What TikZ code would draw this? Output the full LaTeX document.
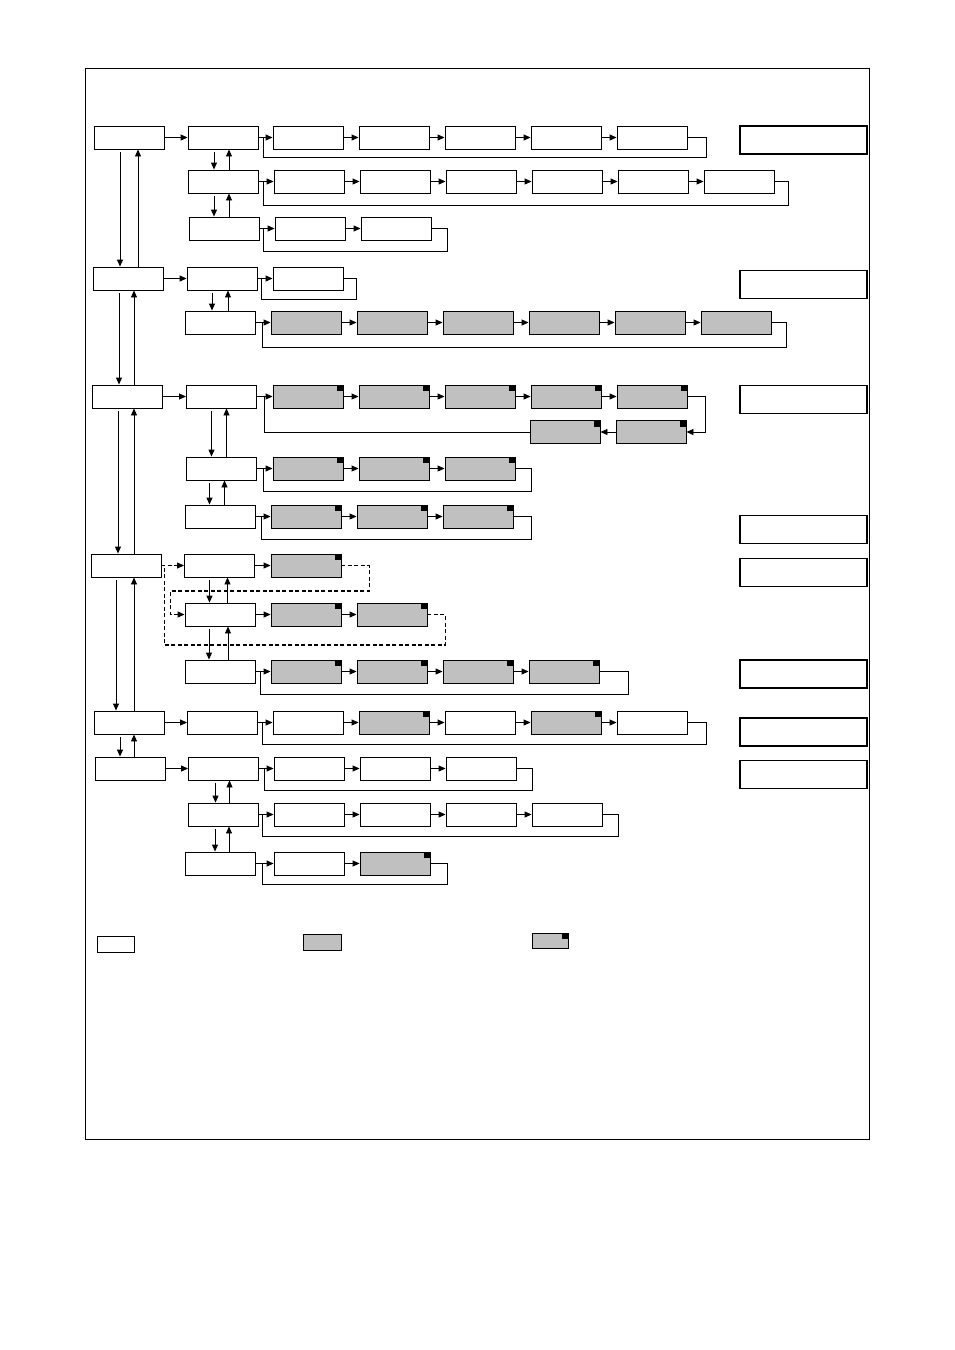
\documentclass[tikz,border=0pt]{standalone}
\usetikzlibrary{arrows.meta,calc}
\definecolor{boxgray}{HTML}{C0C0C0}

\begin{document}
\begin{tikzpicture}[x=1pt,y=-1pt,line width=0.9pt,
  wbox/.style={draw, fill=white, inner sep=0pt, minimum width=70pt, minimum height=23pt},
  gbox/.style={wbox, fill=boxgray},
  mbox/.style={gbox, path picture={\fill[black] ([xshift=-6pt,yshift=-6pt]path picture bounding box.north east) rectangle (path picture bounding box.north east);}},
  sidebox/.style={draw, line width=1.2pt, inner sep=0pt, minimum width=127pt, minimum height=28pt},
  arr/.style={-{Triangle[length=7pt,width=6pt]}},
  dashline/.style={line width=1.1pt, dash pattern=on 4pt off 2.5pt}]
\useasboundingbox (0,0) rectangle (954,1350);
\draw (85,68) rectangle (869,1139);

% main column and second column
\foreach \x/\y [count=\i] in {129/137.5, 128/278.5, 127.5/396.5, 126/565.5, 129/722.5, 130/768.5}
  \node[wbox] (m\i) at (\x,\y) {};
\foreach \x/\y [count=\i] in {223/137.5, 223/181.5, 224/228.5, 222/278.5, 220/322.5, 221.5/396.5, 221.5/468.5, 220/516.5,
    219.5/565.5, 220/614.5, 220/671.5, 222.5/722.5, 223.5/768.5, 223/814.5, 220.5/863.5}
  \node[wbox] (s\i) at (\x,\y) {};

% chains of boxes, one row each
\foreach \r/\x/\y/\types in {
    1/222/137.5/{wbox,wbox,wbox,wbox,wbox},
    2/223/181.5/{wbox,wbox,wbox,wbox,wbox,wbox},
    3/224/228.5/{wbox,wbox},
    4/222/278.5/{wbox},
    5/220/322.5/{gbox,gbox,gbox,gbox,gbox,gbox},
    6/222/396.5/{mbox,mbox,mbox,mbox,mbox},
    7/222/468.5/{mbox,mbox,mbox},
    8/220/516.5/{mbox,mbox,mbox},
    9/220/565.5/{mbox},
    10/220/614.5/{mbox,mbox},
    11/220/671.5/{mbox,mbox,mbox,mbox},
    12/222/722.5/{wbox,mbox,wbox,mbox,wbox},
    13/223/768.5/{wbox,wbox,wbox},
    14/223/814.5/{wbox,wbox,wbox,wbox},
    15/223/863.5/{wbox,mbox}}{
  \foreach \t [count=\c, remember=\c as \p (initially 0)] in \types {
    \node[\t] (r\r-\c) at ({\x+86*\c},\y) {};
    \ifnum\p=0
      \draw[arr] (s\r.east) -- (r\r-\c.west);
    \else
      \draw[arr] (r\r-\p.east) -- (r\r-\c.west);
    \fi
  }
}

% loops back to the start of a row
\foreach \r/\c/\dx/\dy/\dl in {1/5/19/20/5, 2/6/14/24/5, 3/2/16/23/4, 4/1/13/21/4, 5/6/15/25/7, 7/3/16/23/6,
    8/3/18/23/6, 11/4/29/23/5, 12/5/19/22/4, 13/3/16/22/5, 14/4/16/22/4, 15/2/17/21/6}
  \draw (r\r-\c.east) -| ++(\dx,\dy) -| ([xshift=\dl pt]s\r.east);

\node[mbox] (r6b1) at (651,432) {};
\node[mbox] (r6b2) at (565,432) {};
\draw[arr] (r6-5.east) -| ++(18,35.5) -- (r6b1.east);
\draw[arr] (r6b1.west) -- (r6b2.east);
\draw (r6b2.west) -| ([xshift=7pt]s6.east);

\draw[dashline,arr] (m4.east) -- (s9.west);
\draw[dashline,arr] (r9-1.east) -| ++(28,25.5) -| ([xshift=-14pt]s10.west) -- (s10.west);
\draw[dashline] (r10-2.east) -| ++(18,30.5) -| ([xshift=3pt]m4.east);

% from the main column
\foreach \a/\b in {m1/s1, m2/s4, m3/s6, m5/s12, m6/s13}
  \draw[arr] (\a.east) -- (\b.west);

% up and down
\foreach \a/\b/\l/\u in {m1/m2/-9/9, m2/m3/-9/6, m3/m4/-9.5/6.5, m4/m5/-10/8, m5/m6/-9/5,
    s1/s2/-9/6, s2/s3/-9/6, s4/s5/-10/6, s6/s7/-10/5, s7/s8/-12/3,
    s9/s10/-10/8, s10/s11/-11/8, s13/s14/-8/6, s14/s15/-8/6}{
  \draw[arr, shorten <=3pt] ([xshift=\l pt]\a.south) -- ([xshift=\l pt]\a.south |- \b.north);
  \draw[arr] ([xshift=\u pt]\a.south |- \b.north) -- ([xshift=\u pt]\a.south);
}

% boxes on the right
\foreach \y [count=\i] in {140, 284.5, 399.5, 529.5, 572.5, 674, 732, 774.5}
  \node[sidebox] (n\i) at (803.5,\y) {};

% key
\node[wbox, minimum width=37pt, minimum height=16pt] (k1) at (115.5,944) {};
\node[gbox, minimum width=38pt, minimum height=16pt] (k2) at (322,942) {};
\node[mbox, minimum width=36pt, minimum height=15pt] (k3) at (550,940.5) {};
\end{tikzpicture}
\end{document}
